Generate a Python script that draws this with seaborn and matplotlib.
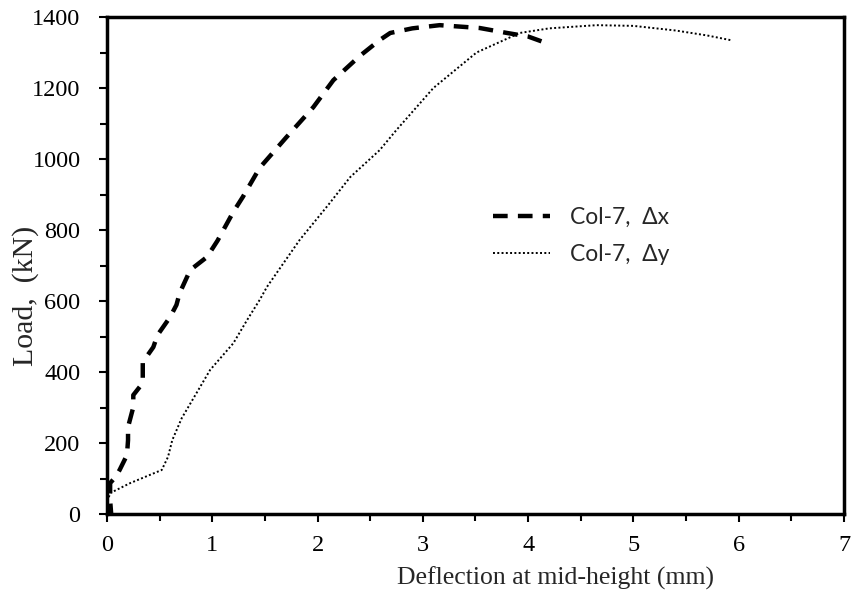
import matplotlib
matplotlib.use("Agg")
import matplotlib.pyplot as plt
import seaborn as sns
import pandas as pd

# Col-7, Δx (dashed)
dx_x = [0.0, 0.04, 0.03, 0.03, 0.08, 0.12, 0.19, 0.2, 0.2, 0.25, 0.25, 0.34, 0.34, 0.44, 0.48,
        0.6, 0.66, 0.69, 0.79, 0.95, 1.05, 1.2, 1.29, 1.45, 1.7, 1.96, 2.15, 2.4, 2.59, 2.69,
        2.9, 3.16, 3.54, 3.8, 4.0, 4.14]
dx_y = [0, 0, 39, 87, 104, 124, 166, 208, 245, 301, 335, 369, 428, 470, 504,
        555, 589, 622, 687, 724, 770, 851, 893, 975, 1060, 1146, 1222, 1290, 1335, 1355,
        1368, 1377, 1369, 1355, 1345, 1330]

# Col-7, Δy (dotted)
dy_x = [0.0, 0.0, 0.03, 0.22, 0.52, 0.58, 0.62, 0.71, 0.98, 1.2, 1.33, 1.45, 1.52, 1.83,
        2.1, 2.31, 2.59, 2.75, 3.1, 3.51, 3.92, 4.2, 4.65, 5.0, 5.4, 5.7, 5.92]
dy_y = [0, 30, 59, 87, 124, 161, 208, 270, 406, 481, 546, 603, 640, 772,
        870, 949, 1025, 1082, 1200, 1300, 1355, 1368, 1377, 1375, 1362, 1348, 1335]

labels = ["Col-7,  Δx", "Col-7,  Δy"]
df_x = pd.DataFrame({"x": dx_x, "y": dx_y})
df_y = pd.DataFrame({"x": dy_x, "y": dy_y})

sns.set_style("white")
plt.rcParams["font.family"] = ["Liberation Serif", "DejaVu Serif"]

fig = plt.figure(figsize=(8.51, 6.05), dpi=100)
ax = fig.add_axes([0.1257, 0.1504, 0.8661, 0.8215])

sns.lineplot(data=df_x, x="x", y="y", sort=False, estimator=None, ax=ax,
             color="black", lw=3.2, label=labels[0])
ax.lines[-1].set_dashes([3.3, 2.3])
sns.lineplot(data=df_y, x="x", y="y", sort=False, estimator=None, ax=ax,
             color="black", lw=1.4, label=labels[1])
ax.lines[-1].set_dashes([1, 1.2])

ax.set_xlim(0, 7)
ax.set_ylim(0, 1400)
ax.set_xticks(range(0, 8))
ax.set_yticks(range(0, 1401, 200))
ax.set_xticks([i + 0.5 for i in range(7)], minor=True)
ax.set_yticks(range(100, 1400, 200), minor=True)
ax.tick_params(which="both", direction="out", length=6, width=1.5, colors="black",
               labelsize=17.5, bottom=True, left=True)
ax.tick_params(axis="x", which="major", pad=9)
ax.tick_params(axis="y", which="major", pad=13)
ax.tick_params(which="minor", length=5)
for s in ax.spines.values():
    s.set_linewidth(2.5)
    s.set_color("black")

ax.set_xlabel("Deflection at mid-height (mm)", fontsize=18.5)
ax.set_ylabel("Load,  (kN)", fontsize=21.5)
ax.xaxis.set_label_coords(0.608, -0.105)
ax.yaxis.set_label_coords(-0.092, 0.439)

leg = ax.legend(loc="upper left", bbox_to_anchor=(0.524, 0.618), frameon=False,
                prop={"family": ["Lato", "DejaVu Sans"], "size": 16.5},
                handlelength=2.5, handletextpad=0.85, labelspacing=0.72,
                borderpad=0, borderaxespad=0)

fig.savefig("out.png", dpi=100)
